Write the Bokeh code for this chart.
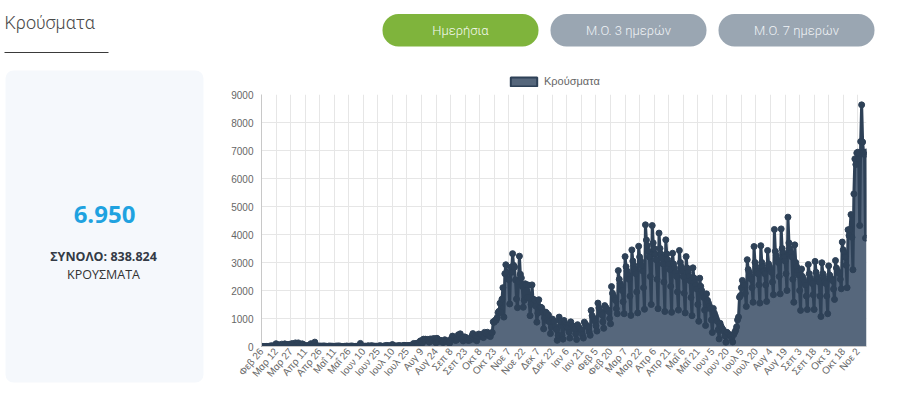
import math
from bokeh.plotting import figure
from bokeh.layouts import row, column
from bokeh.models import ColumnDataSource, FixedTicker, Range1d, Legend, LegendItem
from bokeh.core.properties import value
from bokeh.embed import file_html
from bokeh.resources import INLINE

# ---------------- data (daily cases, 26 Feb 2020 -> 11 Nov 2021) ----------------
cases_2020_feb = [1, 2, 0, 0]
cases_2020_mar = [0, 3, 0, 2, 1, 21, 7, 28, 7, 9, 17, 99, 73, 38, 23, 59, 31, 84, 46, 31,
                  94, 71, 71, 62, 48, 78, 71, 95, 102, 61, 48]
cases_2020_apr = [129, 50, 60, 129, 62, 54, 25, 95, 62, 56, 26, 20, 19, 25, 44, 8, 102, 11, 12, 21,
                  156, 15, 16, 19, 10, 15, 11, 13, 6, 21]
cases_2020_may = [11, 12, 6, 2, 10, 15, 12, 11, 10, 7, 5, 6, 16, 6, 21, 10, 15, 7, 3, 3,
                  3, 10, 5, 18, 3, 5, 10, 9, 20, 6, 7]
cases_2020_jun = [0, 3, 5, 5, 5, 10, 110, 3, 4, 10, 7, 13, 4, 6, 27, 10, 8, 25, 22, 16,
                  11, 11, 7, 12, 4, 14, 29, 17, 9, 5]
cases_2020_jul = [6, 26, 14, 37, 24, 25, 18, 23, 20, 70, 29, 16, 19, 17, 15, 21, 33, 21, 14, 11,
                  28, 43, 25, 31, 19, 34, 28, 32, 38, 57, 43]
cases_2020_aug = [110, 75, 56, 110, 121, 93, 153, 203, 151, 126, 262, 196, 262, 230, 254, 217, 151, 269, 217, 269,
                  229, 284, 171, 131, 293, 168, 236, 221, 204, 194, 142]
cases_2020_sep = [156, 241, 183, 179, 203, 155, 117, 223, 287, 372, 307, 233, 221, 223, 265, 419, 339, 453, 297, 289,
                  200, 342, 337, 313, 253, 218, 232, 227, 305, 372]
cases_2020_oct = [460, 283, 253, 364, 204, 364, 445, 369, 412, 423, 340, 319, 504, 470, 461, 508, 424, 381, 355, 484,
                  501, 882, 865, 935, 935, 1026, 1211, 1259, 1547, 1211, 1690]
cases_2020_nov = [2100, 1050, 2600, 2920, 2646, 2426, 2390, 1520, 2830, 2650, 3316, 2900, 2835, 2378, 1695, 1388,
                  2311, 3227, 2581, 2450, 2147, 1400, 1650, 2240, 2198, 1747, 2196, 1747, 1100, 1500]
cases_2020_dec = [2200, 1690, 1677, 1649, 1438, 870, 1190, 1670, 1408, 1398, 1384, 1226, 630, 1014, 1230, 1193,
                  921, 1126, 880, 460, 693, 980, 881, 902, 708, 609, 220, 395, 1050, 920, 895]
cases_2021_jan = [400, 262, 930, 820, 760, 700, 650, 520, 300, 880, 760, 730, 690, 620, 450, 250, 780, 700, 650, 610,
                  560, 420, 300, 870, 800, 760, 720, 680, 520, 400, 1290]
cases_2021_feb = [1100, 1020, 960, 900, 740, 550, 1550, 1380, 1290, 1210, 1130, 880, 650, 1460, 1400, 1340, 1300,
                  1250, 1000, 810, 2140, 1900, 1800, 1720, 1650, 1350, 1170, 2710]
cases_2021_mar = [2400, 2250, 2150, 2000, 1600, 1170, 3210, 2850, 2700, 2550, 2400, 1800, 1110, 3450, 3050, 2900,
                  2750, 2600, 1950, 1200, 3580, 3200, 3050, 2900, 2700, 2100, 1330, 4346, 3800, 3600, 3400]
cases_2021_apr = [3200, 2500, 1500, 4320, 3700, 3500, 3300, 3100, 2400, 1350, 4050, 3500, 3300, 3150, 2950, 2300,
                  1250, 3810, 3300, 3100, 2950, 2750, 2150, 1220, 3330, 2950, 2800, 2650, 2500, 1950]
cases_2021_may = [1300, 3430, 3000, 2850, 2700, 2500, 1900, 1200, 3210, 2800, 2650, 2500, 2350, 1750, 1100, 2810,
                  2450, 2300, 2200, 2050, 1500, 900, 2440, 2150, 2000, 1900, 1750, 1300, 750, 1880, 1650]
cases_2021_jun = [1550, 1450, 1350, 950, 500, 1360, 1200, 1100, 1000, 900, 600, 270, 830, 720, 650, 600, 540, 380,
                  150, 510, 460, 430, 400, 380, 280, 160, 420, 500, 570, 700]
cases_2021_jul = [950, 1050, 1760, 1820, 2100, 2360, 2250, 2200, 1900, 1430, 3100, 2750, 2650, 2500, 2400, 2100,
                  1580, 3570, 3000, 2850, 2700, 2600, 2200, 1550, 3600, 3000, 2850, 2700, 2600, 2200, 1610]
cases_2021_aug = [3430, 2950, 2850, 2750, 2650, 2300, 1850, 4180, 3400, 3250, 3100, 3000, 2500, 1880, 4200, 3500,
                  3350, 3200, 3050, 2600, 2000, 4620, 3700, 3500, 3350, 3200, 2400, 1580, 3630, 3000, 2850]
cases_2021_sep = [2700, 2550, 2000, 1290, 2770, 2500, 2400, 2300, 2200, 1800, 1320, 2930, 2600, 2450, 2350, 2250,
                  1850, 1320, 3040, 2650, 2500, 2400, 2300, 1800, 1070, 2990, 2600, 2450, 2350, 2250]
cases_2021_oct = [1800, 1170, 2880, 2550, 2450, 2400, 2350, 2050, 1680, 3070, 2800, 2700, 2650, 2600, 2400, 2060,
                  3730, 3450, 3350, 3200, 2900, 2100, 4170, 3960, 4180, 4710, 3900, 2740, 5450, 6700, 6500]
cases_2021_nov = [6910, 6940, 6700, 4320, 7320, 8630, 7300, 6940, 6850, 3870, 6950]

daily_cases = (cases_2020_feb + cases_2020_mar + cases_2020_apr + cases_2020_may + cases_2020_jun
               + cases_2020_jul + cases_2020_aug + cases_2020_sep + cases_2020_oct + cases_2020_nov
               + cases_2020_dec + cases_2021_jan + cases_2021_feb + cases_2021_mar + cases_2021_apr
               + cases_2021_may + cases_2021_jun + cases_2021_jul + cases_2021_aug + cases_2021_sep
               + cases_2021_oct + cases_2021_nov)
day_index = list(range(len(daily_cases)))

tick_labels = ["Φεβ 26", "Μαρ 12", "Μαρ 27", "Απρ 11", "Απρ 26", "Μαΐ 11", "Μαΐ 26", "Ιουν 10",
               "Ιουν 25", "Ιουλ 10", "Ιουλ 25", "Αυγ 9", "Αυγ 24", "Σεπ 8", "Σεπ 23", "Οκτ 8",
               "Οκτ 23", "Νοε 7", "Νοε 22", "Δεκ 7", "Δεκ 22", "Ιαν 6", "Ιαν 21", "Φεβ 5",
               "Φεβ 20", "Μαρ 7", "Μαρ 22", "Απρ 6", "Απρ 21", "Μαΐ 6", "Μαΐ 21", "Ιουν 5",
               "Ιουν 20", "Ιουλ 5", "Ιουλ 20", "Αυγ 4", "Αυγ 19", "Σεπ 3", "Σεπ 18", "Οκτ 3",
               "Οκτ 18", "Νοε 2"]
tick_step_days = 15
y_ticks = [0, 1000, 2000, 3000, 4000, 5000, 6000, 7000, 8000, 9000]

series_label = "Κρούσματα"
latest_value = "6.950"
total_text = "ΣΥΝΟΛΟ: 838.824"
button_labels = ["Ημερήσια", "Μ.Ο. 3 ημερών", "Μ.Ο. 7 ημερών"]

# ---------------- styles ----------------
FILL = "#56677c"
LINE = "#2e4157"
GRID = "#e6e6e6"
UI_FONT = value("Roboto Light")
CHART_FONT = "Liberation Sans"


def blank(width, height, x0, x1, y0, y1):
    f = figure(width=width, height=height, x_range=Range1d(x0, x1), y_range=Range1d(y0, y1),
               output_backend="svg", toolbar_location=None, title=None,
               x_axis_location=None, y_axis_location=None,
               min_border=0, min_border_left=0, min_border_right=0,
               min_border_top=0, min_border_bottom=0)
    f.grid.visible = False
    f.outline_line_color = None
    f.background_fill_color = "white"
    f.border_fill_color = "white"
    f.frame_align = False
    return f


# ---------------- left panel (title + summary card) ----------------
left = blank(210, 402, 0, 210, 402, 0)
left.text(x=[4], y=[22], text=[series_label], text_font=UI_FONT, text_font_size="18px",
          text_color="#4a4a4a", text_align="left", text_baseline="middle")
left.segment(x0=[4], y0=[52], x1=[108], y1=[52], line_color="#3a3a3a", line_width=1)
left.quad(left=[5], right=[203], top=[70], bottom=[382], fill_color="#f5f8fc",
          line_color=None, border_radius=8)
left.text(x=[104], y=[214], text=[latest_value], text_font=value("Open Sans"),
          text_font_style="bold", text_font_size="24px", text_color="#1fa2e0",
          text_align="center", text_baseline="middle")
left.text(x=[103], y=[256], text=[total_text], text_font=value("Open Sans"),
          text_font_style="bold", text_font_size="12.5px", text_color="#333a45",
          text_align="center", text_baseline="middle")
left.text(x=[103], y=[274], text=["ΚΡΟΥΣΜΑΤΑ"], text_font=value("Open Sans"),
          text_font_size="12.5px", text_color="#333333",
          text_align="center", text_baseline="middle")

# ---------------- top right (buttons + legend) ----------------
top = blank(690, 88, 210, 900, 88, 0)
top.quad(left=[382, 550, 718], right=[538, 706, 874], top=[13.5, 13.5, 13.5], bottom=[46, 46, 46],
         fill_color=["#7fb43c", "#9aa6b2", "#9aa6b2"], line_color=None, border_radius=16)
top.text(x=[460, 628, 796], y=[30, 30, 30], text=button_labels, text_font=UI_FONT,
         text_font_size="13px", text_color=["#f4f9ee", "#f0f3f6", "#f0f3f6"],
         text_align="center", text_baseline="middle")
# legend swatch source lies outside the visible range; only its legend glyph is seen
legend_box = top.quad(left=[0], right=[1], top=[-20], bottom=[-10], fill_color=FILL,
                      line_color=LINE, line_width=2)
legend = Legend(items=[LegendItem(label=series_label, renderers=[legend_box])],
                location=(297, 1), orientation="horizontal", padding=0, margin=0,
                spacing=0, glyph_width=33, glyph_height=11, label_height=11,
                label_standoff=4, label_text_font=CHART_FONT, label_text_font_size="11px",
                label_text_color="#666666", border_line_color=None, background_fill_alpha=0)
top.add_layout(legend)

# ---------------- chart ----------------
src = ColumnDataSource(data=dict(x=day_index, y=daily_cases))
chart = figure(width=690, height=314, x_range=Range1d(0, len(daily_cases) - 1),
               y_range=Range1d(0, 9000), output_backend="svg", toolbar_location=None, title=None,
               min_border_left=51, min_border_right=34, min_border_top=6, min_border_bottom=56)
chart.outline_line_color = None
chart.background_fill_color = "white"
chart.border_fill_color = "white"
chart.frame_align = False

chart.varea(x="x", y1=0, y2="y", source=src, fill_color=FILL)
chart.line("x", "y", source=src, line_color=LINE, line_width=3)
chart.scatter("x", "y", source=src, size=6, fill_color=LINE, line_color=LINE)

tick_positions = [i * tick_step_days for i in range(len(tick_labels))]
chart.xaxis.ticker = FixedTicker(ticks=tick_positions)
chart.xaxis.major_label_overrides = {t: lab for t, lab in zip(tick_positions, tick_labels)}
chart.xaxis.major_label_orientation = 0.87
chart.yaxis.ticker = FixedTicker(ticks=y_ticks)
for ax in (chart.xaxis, chart.yaxis):
    ax.major_tick_line_color = None
    ax.minor_tick_line_color = None
    ax.major_tick_out = 0
    ax.major_tick_in = 0
    ax.minor_tick_out = 0
    ax.minor_tick_in = 0
    ax.axis_line_color = "#c8c8c8"
    ax.major_label_text_font = CHART_FONT
    ax.major_label_text_color = "#666666"
chart.yaxis.major_label_text_font_size = "10px"
chart.xaxis.major_label_text_font_size = "10px"
chart.yaxis.major_label_standoff = 8
chart.xaxis.major_label_standoff = 3
chart.xgrid.grid_line_color = GRID
chart.ygrid.grid_line_color = GRID

layout = row(left, column(top, chart, spacing=0), spacing=0)
open("out.html", "w").write(file_html(layout, INLINE))
